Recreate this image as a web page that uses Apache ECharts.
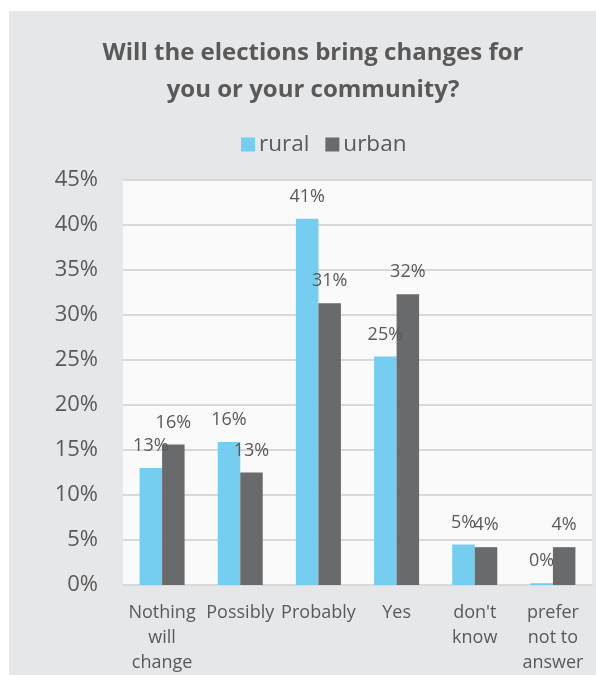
<!DOCTYPE html>
<html>
<head>
<meta charset="utf-8">
<script src="https://cdn.jsdelivr.net/npm/echarts@6/dist/echarts.min.js"></script>
<style>
html,body{margin:0;padding:0;background:#ffffff;}
#chart{width:596px;height:675px;}
</style>
</head>
<body>
<div id="chart"></div>
<script>
var categories = ["Nothing\nwill\nchange", "Possibly", "Probably", "Yes", "don't\nknow", "prefer\nnot to\nanswer"];
var rural = [13.0, 15.9, 40.7, 25.4, 4.5, 0.2];
var urban = [15.6, 12.5, 31.3, 32.3, 4.2, 4.2];
var seriesNames = ["rural", "urban"];
var yTicks = [0, 5, 10, 15, 20, 25, 30, 35, 40, 45];

var FONT = "'Open Sans', sans-serif";
var TXT = '#595959';
var chart = echarts.init(document.getElementById('chart'));

function labelCfg() {
  return {
    show: true, position: 'top', distance: 13,
    fontFamily: FONT, fontSize: 18, color: TXT,
    formatter: function (p) { return Math.round(p.value) + '%'; }
  };
}

chart.setOption({
  animation: false,
  backgroundColor: '#ffffff',
  graphic: [{
    type: 'rect', z: -10, silent: true,
    shape: { x: 9, y: 11, width: 587, height: 664 },
    style: { fill: '#e6e7e9' }
  }],
  title: {
    text: 'Will the elections bring changes for\nyou or your community?',
    left: 308, textAlign: 'center', top: 30,
    textStyle: { fontFamily: FONT, fontSize: 24, fontWeight: 'bold', color: TXT, lineHeight: 37 }
  },
  legend: {
    data: seriesNames, left: 241, top: 133, padding: 0,
    itemWidth: 14, itemHeight: 14, itemGap: 16,
    icon: 'rect',
    textStyle: { fontFamily: FONT, fontSize: 22.5, color: TXT, padding: [0, 0, 0, -1] }
  },
  grid: {
    left: 123, right: 4, top: 180, bottom: 88,
    show: true, backgroundColor: '#fafafa', borderWidth: 0
  },
  xAxis: {
    type: 'category', data: categories,
    axisLine: { show: true, lineStyle: { color: '#d9d9d9', width: 2 } },
    axisTick: { show: false },
    axisLabel: {
      interval: 0, margin: 15, fontFamily: FONT, fontSize: 18, color: TXT,
      lineHeight: 25, align: 'center'
    }
  },
  yAxis: {
    type: 'value', min: 0, max: 45, interval: 5,
    axisLine: { show: false }, axisTick: { show: false },
    splitLine: { show: true, lineStyle: { color: '#d9d9d9', width: 2 } },
    axisLabel: {
      margin: 25, fontFamily: FONT, fontSize: 22, color: TXT,
      formatter: function (v) { return yTicks.indexOf(v) >= 0 ? v + '%' : ''; }
    }
  },
  series: [
    { name: seriesNames[0], type: 'bar', data: rural, barWidth: 22.5, barGap: '0%',
      itemStyle: { color: '#75cdf0' }, label: labelCfg() },
    { name: seriesNames[1], type: 'bar', data: urban, barWidth: 22.5, barGap: '0%',
      itemStyle: { color: '#696a6c' }, label: labelCfg() }
  ]
});
</script>
</body>
</html>
